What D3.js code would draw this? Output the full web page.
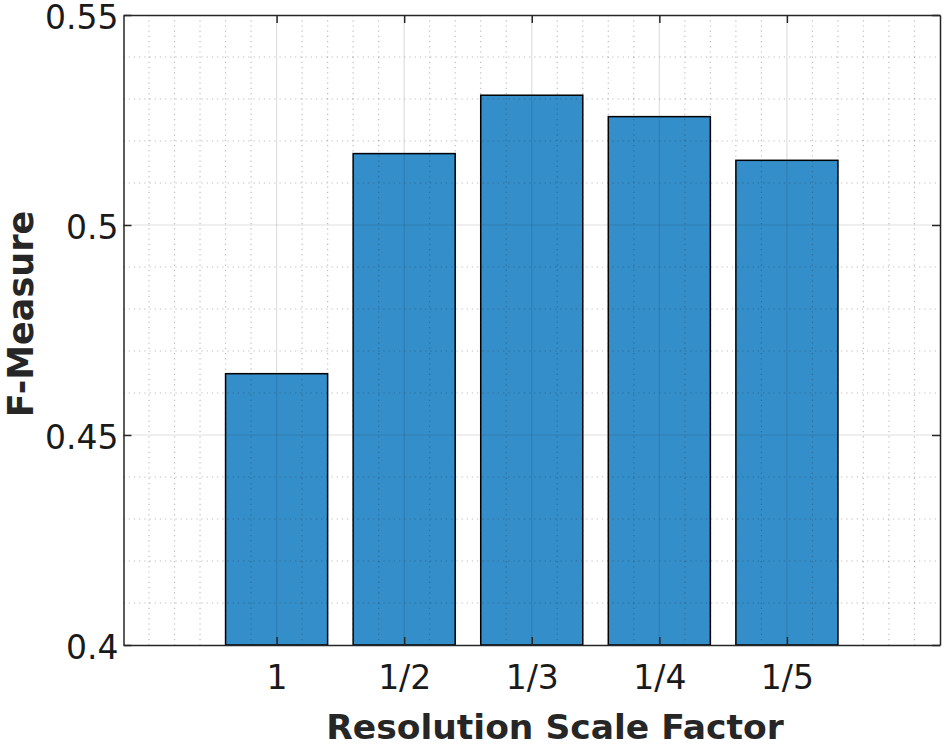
<!DOCTYPE html>
<html>
<head>
<meta charset="utf-8">
<script src="https://cdn.jsdelivr.net/npm/d3@7"></script>
<style>
  body { margin: 0; background: #fff; }
  svg { display: block; }
</style>
</head>
<body>
<div id="chart"></div>
<script>
"use strict";

// data
var categories = ["1", "1/2", "1/3", "1/4", "1/5"];
var values = [0.4646, 0.5170, 0.5309, 0.5258, 0.5154];
var yTicks = [0.4, 0.45, 0.5, 0.55];
var yTickLabels = ["0.4", "0.45", "0.5", "0.55"];

(function() {
  var W = 946, H = 744;
  var PLOT_L = 123.5, PLOT_R = 940, PLOT_T = 15, PLOT_B = 645;
  var axisColor = "#262626";

  var svg = d3.select("#chart").append("svg")
      .attr("width", W)
      .attr("height", H);

  // bars sit at positions 1..n, axis runs a bit wider on both sides
  var x = d3.scaleLinear().domain([-0.2, categories.length + 1.2]).range([PLOT_L, PLOT_R]);
  var y = d3.scaleLinear().domain([0.4, 0.55]).range([PLOT_B, PLOT_T]);
  var barW = 0.8;

  var xPos = categories.map(function(d, i) { return i + 1; });

  // bars
  svg.append("g").selectAll("rect")
      .data(values)
      .enter().append("rect")
      .attr("x", function(d, i) { return x(xPos[i] - barW / 2); })
      .attr("width", x(barW) - x(0))
      .attr("y", function(d) { return y(d); })
      .attr("height", function(d) { return y(0.4) - y(d); })
      .style("fill", "#0072BD")
      .style("fill-opacity", 0.8)
      .style("stroke", "#000")
      .style("stroke-width", 1.5);

  // minor grid (drawn on top, like Layer top)
  var xMinor = d3.range(0, 31).map(function(k) { return +(k * 0.2).toFixed(1); })
      .filter(function(v) { return xPos.indexOf(v) < 0; });
  var yMinor = d3.range(1, 15).map(function(k) { return +(0.4 + k * 0.01).toFixed(2); })
      .filter(function(v) { return yTicks.indexOf(v) < 0; });

  var grid = svg.append("g");
  grid.selectAll(".xminor")
      .data(xMinor)
      .enter().append("line")
      .attr("x1", function(d) { return x(d); })
      .attr("x2", function(d) { return x(d); })
      .attr("y1", PLOT_T).attr("y2", PLOT_B)
      .style("stroke", axisColor)
      .style("stroke-opacity", 0.3)
      .style("stroke-dasharray", "1.2,4")
      .style("stroke-width", 1.2);

  grid.selectAll(".yminor")
      .data(yMinor)
      .enter().append("line")
      .attr("y1", function(d) { return y(d); })
      .attr("y2", function(d) { return y(d); })
      .attr("x1", PLOT_L).attr("x2", PLOT_R)
      .style("stroke", axisColor)
      .style("stroke-opacity", 0.3)
      .style("stroke-dasharray", "1.2,4")
      .style("stroke-width", 1.2);

  // major grid
  grid.selectAll(".xmajor")
      .data(xPos)
      .enter().append("line")
      .attr("x1", function(d) { return x(d); })
      .attr("x2", function(d) { return x(d); })
      .attr("y1", PLOT_T).attr("y2", PLOT_B)
      .style("stroke", axisColor)
      .style("stroke-opacity", 0.15)
      .style("stroke-width", 1.2);

  grid.selectAll(".ymajor")
      .data(yTicks.slice(1, -1))
      .enter().append("line")
      .attr("y1", function(d) { return y(d); })
      .attr("y2", function(d) { return y(d); })
      .attr("x1", PLOT_L).attr("x2", PLOT_R)
      .style("stroke", axisColor)
      .style("stroke-opacity", 0.15)
      .style("stroke-width", 1.2);

  // axes, ticks pointing inward on all four sides
  var fontFam = "'DejaVu Sans', Verdana, sans-serif";

  var xAxisB = d3.axisBottom(x).tickValues(xPos).tickSizeInner(-8).tickSizeOuter(0)
      .tickFormat(function(d) { return categories[d - 1]; });
  var xAxisT = d3.axisTop(x).tickValues(xPos).tickSizeInner(-8).tickSizeOuter(0).tickFormat("");
  var yAxisL = d3.axisLeft(y).tickValues(yTicks).tickSizeInner(-8).tickSizeOuter(0)
      .tickFormat(function(d, i) { return yTickLabels[i]; });
  var yAxisR = d3.axisRight(y).tickValues(yTicks).tickSizeInner(-8).tickSizeOuter(0).tickFormat("");

  function styleAxis(g) {
    g.select(".domain").style("stroke", axisColor).style("stroke-width", 1.5);
    g.selectAll(".tick line").style("stroke", axisColor).style("stroke-width", 1.5);
    g.selectAll("text")
        .style("font-family", fontFam)
        .style("font-size", "33px")
        .style("fill", "#1a1a1a");
  }

  var gxB = svg.append("g").attr("transform", "translate(0," + PLOT_B + ")").call(xAxisB).call(styleAxis);
  gxB.selectAll("text").attr("y", 21).attr("dy", "0.71em");
  svg.append("g").attr("transform", "translate(0," + PLOT_T + ")").call(xAxisT).call(styleAxis);
  var gyL = svg.append("g").attr("transform", "translate(" + PLOT_L + ",0)").call(yAxisL).call(styleAxis);
  gyL.selectAll("text").attr("x", -5).attr("y", 3);
  svg.append("g").attr("transform", "translate(" + PLOT_R + ",0)").call(yAxisR).call(styleAxis);

  // axis labels
  svg.append("text")
      .attr("x", 555)
      .attr("y", 739)
      .attr("text-anchor", "middle")
      .style("font-family", fontFam)
      .style("font-weight", "bold")
      .style("font-size", "34.5px")
      .style("fill", "#262626")
      .text("Resolution Scale Factor");

  svg.append("text")
      .attr("transform", "translate(33,314) rotate(-90)")
      .attr("text-anchor", "middle")
      .style("font-family", fontFam)
      .style("font-weight", "bold")
      .style("font-size", "35px")
      .style("fill", "#262626")
      .text("F-Measure");
})();
</script>
</body>
</html>
